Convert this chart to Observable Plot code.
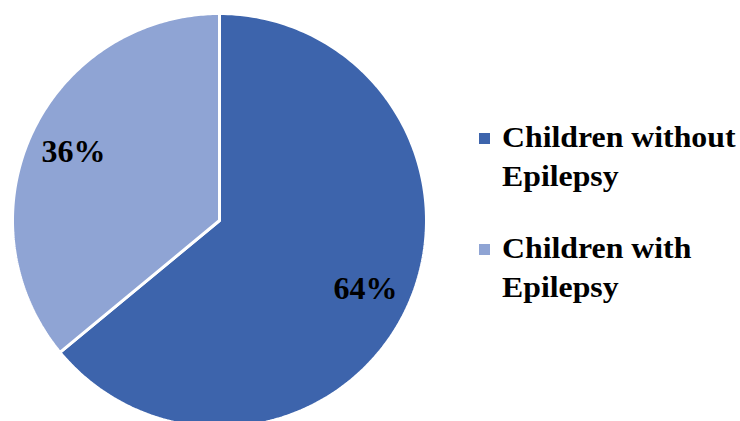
<!DOCTYPE html>
<html><head><meta charset="utf-8">
<script src="https://cdn.jsdelivr.net/npm/d3@7"></script>
<script src="https://cdn.jsdelivr.net/npm/@observablehq/plot@0.6"></script>
<style>
body{margin:0;background:#fff;}
#wrap{position:relative;width:740px;height:421px;overflow:hidden;background:#fff;}
#chart{position:absolute;left:0;top:0;}
#legend{position:absolute;left:479px;top:117px;font-family:"Liberation Serif","Times New Roman",serif;font-weight:bold;font-size:30px;line-height:39px;color:#000;}
.item{position:relative;padding-left:23px;width:245px;margin-bottom:33px;}
.txt{display:inline-block;transform:scaleX(1.06);transform-origin:left center;}
.sw{position:absolute;left:0;top:16px;width:11px;height:11px;}
</style>
</head><body>
<div id="wrap"><div id="chart"></div><div id="legend"></div></div>
<script>
const categories = ["Children without Epilepsy", "Children with Epilepsy"];
const values = [64, 36];
const labels = ["64%", "36%"];
const colors = ["#3D64AC", "#8FA4D4"];

const data = categories.map((c, i) => ({name: c, value: values[i], label: labels[i]}));
const arcs = d3.pie().sort(null).value(d => d.value)(data);

// polygon outline of each slice, from the pie's angles (unit radius)
const pts = [];
for (const a of arcs) {
  const n = 200;
  pts.push({name: a.data.name, x: 0, y: 0});
  for (let k = 0; k <= n; k++) {
    const t = a.startAngle + (a.endAngle - a.startAngle) * k / n;
    pts.push({name: a.data.name, x: Math.sin(t), y: Math.cos(t)});
  }
  pts.push({name: a.data.name, x: 0, y: 0});
}
const labelPos = arcs.map(a => {
  const m = (a.startAngle + a.endAngle) / 2;
  return {label: a.data.label, x: 0.78 * Math.sin(m), y: 0.78 * Math.cos(m)};
});

const plot = Plot.plot({
  width: 460, height: 421,
  margin: 0,
  x: {domain: [-1, 1], range: [12, 426], axis: null},
  y: {domain: [-1, 1], range: [427, 13], axis: null},
  color: {domain: categories, range: colors},
  style: {background: "transparent", overflow: "hidden"},
  marks: [
    Plot.line(pts, {x: "x", y: "y", z: "name", fill: "name", stroke: "white", strokeWidth: 3, strokeLinejoin: "miter", curve: "linear"}),
    Plot.text(labelPos, {x: "x", y: "y", text: "label", fontSize: 32, fontWeight: "bold", fontFamily: "Liberation Serif, Times New Roman, serif", fill: "black", textAnchor: "middle", lineAnchor: "middle"})
  ]
});
document.getElementById("chart").appendChild(plot);

const legend = document.getElementById("legend");
categories.forEach((c, i) => {
  const item = document.createElement("div");
  item.className = "item";
  const sw = document.createElement("span");
  sw.className = "sw";
  sw.style.background = colors[i];
  item.appendChild(sw);
  const words = c.split(" ");
  const first = words.slice(0, 2).join(" ");
  const rest = words.slice(2).join(" ");
  const t1 = document.createElement("span"); t1.className = "txt"; t1.textContent = first;
  const t2 = document.createElement("span"); t2.className = "txt"; t2.textContent = rest;
  item.appendChild(t1); item.appendChild(document.createElement("br")); item.appendChild(t2);
  legend.appendChild(item);
});
</script>
</body></html>
